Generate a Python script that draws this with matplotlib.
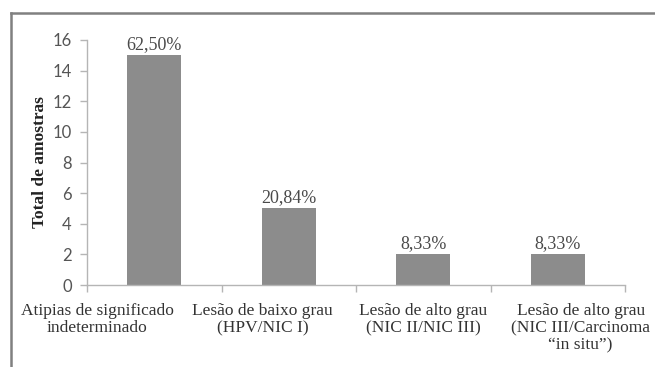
import matplotlib
matplotlib.use("Agg")
import matplotlib.pyplot as plt
from matplotlib.lines import Line2D

categories = [
    "Atipias de significado\nindeterminado",
    "Lesão de baixo grau\n(HPV/NIC I)",
    "Lesão de alto grau\n(NIC II/NIC III)",
    "Lesão de alto grau\n(NIC III/Carcinoma\n\u201cin situ\u201d)",
]
totals = [15, 5, 2, 2]
pct_labels = ["62,50%", "20,84%", "8,33%", "8,33%"]
y_ticks = [0, 2, 4, 6, 8, 10, 12, 14, 16]

# horizontal nudges (points) so the wide category labels do not collide
label_shift_pt = [-41, -19, 0, 16.5]

serif = ["Liberation Serif", "DejaVu Serif"]
sans = ["Lato", "DejaVu Sans"]

fig = plt.figure(figsize=(6.55, 3.67), dpi=100)
ax = fig.add_axes([87 / 655, 1 - 285 / 367, (625 - 87) / 655, (285 - 40) / 367])

x = list(range(len(categories)))
ax.bar(x, totals, width=0.4, color="#8c8c8c", zorder=2)

for xi, v, lab in zip(x, totals, pct_labels):
    ax.annotate(lab, (xi, v), xytext=(0, 1.5), textcoords="offset points",
                ha="center", va="bottom", fontsize=13,
                family=serif, color="#4a4a4a")

ax.set_xlim(-0.5, len(categories) - 0.5)
ax.set_ylim(0, 16)
ax.set_yticks(y_ticks)
ax.set_yticklabels([str(t) for t in y_ticks], family=sans, fontsize=12,
                   color="#555555")

# tick marks sit on the category boundaries
ax.set_xticks([i - 0.5 for i in range(len(categories) + 1)])
ax.set_xticklabels([])
ax.tick_params(axis="x", length=5, color="#b5b5b5", width=1)
ax.tick_params(axis="y", length=5, color="#b5b5b5", width=1, pad=6)

for xi, lab, dx in zip(x, categories, label_shift_pt):
    ax.annotate(lab, (xi, 0), xycoords=("data", "axes fraction"),
                xytext=(dx, -13), textcoords="offset points",
                ha="center", va="top", multialignment="center",
                fontsize=12.5, family=serif, color="#333333",
                linespacing=1.1, annotation_clip=False)

for side in ("top", "right"):
    ax.spines[side].set_visible(False)
for side in ("left", "bottom"):
    ax.spines[side].set_color("#b5b5b5")
    ax.spines[side].set_linewidth(1)

ax.set_ylabel("Total de amostras", family=serif, fontweight="bold",
              fontsize=12.5, color="#222222", labelpad=3)

# outer frame (left and top edges)
fig.add_artist(Line2D([11 / 655, 11 / 655], [0, 1 - 13 / 367],
                      transform=fig.transFigure, color="#808080", lw=1.8))
fig.add_artist(Line2D([11 / 655, 1], [1 - 13 / 367, 1 - 13 / 367],
                      transform=fig.transFigure, color="#808080", lw=1.8))

fig.savefig("out.png", dpi=100)
